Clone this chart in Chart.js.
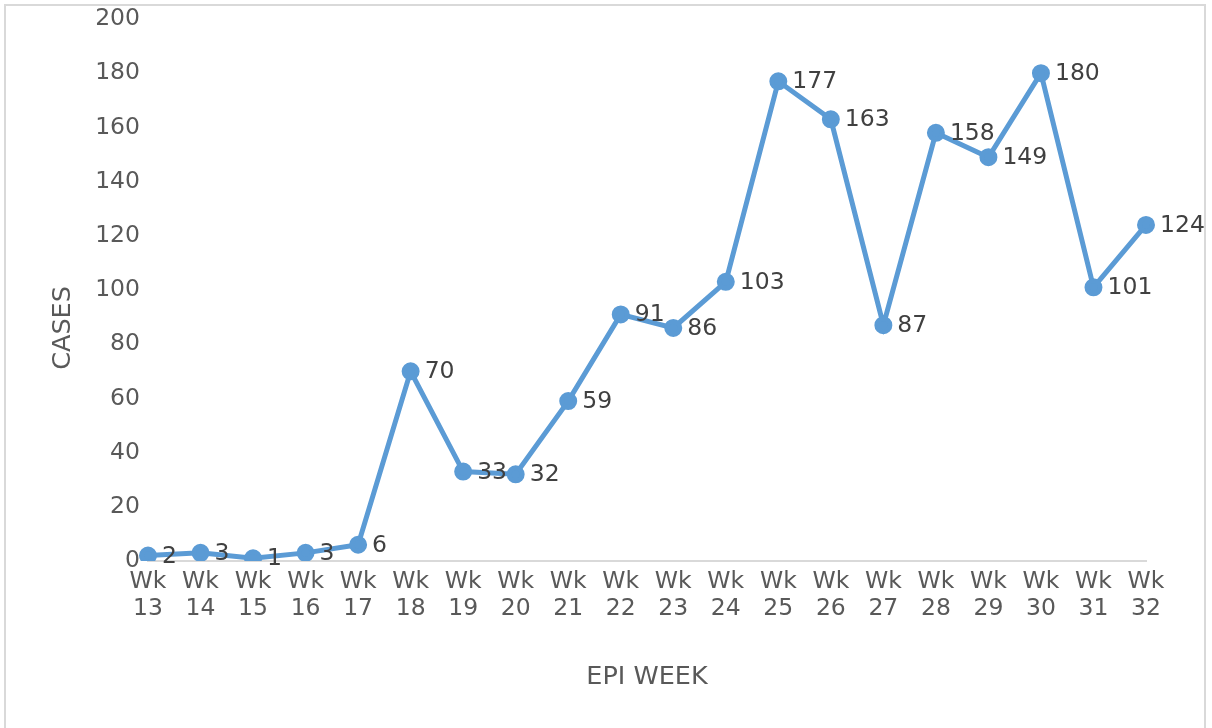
<!DOCTYPE html>
<html lang="en">
<head>
    <meta charset="UTF-8">
    <title>Cases by Epi Week</title>
    <style>
        body { margin: 0; padding: 0; background: #fff; }
        .wrap { position: relative; width: 1212px; height: 728px; }
    </style>
    <script src="https://cdn.jsdelivr.net/npm/chart.js"></script>
</head>
<body>
    <div class="wrap"><canvas id="casesChart"></canvas></div>

    <script>
        const weeks = ['13', '14', '15', '16', '17', '18', '19', '20', '21', '22',
                       '23', '24', '25', '26', '27', '28', '29', '30', '31', '32'];
        const cases = [2, 3, 1, 3, 6, 70, 33, 32, 59, 91, 86, 103, 177, 163, 87, 158, 149, 180, 101, 124];
        const yTicks = [0, 20, 40, 60, 80, 100, 120, 140, 160, 180, 200];

        const FONT = '"DejaVu Sans", sans-serif';

        // frame round the whole chart, plus the y title (sits a bit below centre)
        const frame = {
            id: 'frame',
            beforeDraw(chart) {
                const ctx = chart.ctx;
                ctx.save();
                ctx.strokeStyle = '#d9d9d9';
                ctx.lineWidth = 2;
                ctx.strokeRect(5, 5, 1200, 760);
                ctx.translate(63, 328);
                ctx.rotate(-Math.PI / 2);
                ctx.font = '25.5px ' + FONT;
                ctx.fillStyle = '#595959';
                ctx.textAlign = 'center';
                ctx.textBaseline = 'middle';
                ctx.fillText('CASES', 0, 0);
                ctx.restore();
            }
        };

        // value labels to the right of each point
        const valueLabels = {
            id: 'valueLabels',
            afterDatasetsDraw(chart) {
                const ctx = chart.ctx;
                const meta = chart.getDatasetMeta(0);
                ctx.save();
                ctx.font = '23.5px ' + FONT;
                ctx.fillStyle = '#404040';
                ctx.textAlign = 'left';
                ctx.textBaseline = 'middle';
                meta.data.forEach((pt, i) => {
                    ctx.fillText(String(cases[i]), pt.x + 14, pt.y + 1);
                });
                ctx.restore();
            }
        };

        new Chart(document.getElementById('casesChart'), {
            type: 'line',
            data: {
                labels: weeks.map(w => ['Wk', w]),
                datasets: [{
                    data: cases,
                    borderColor: '#5b9bd5',
                    backgroundColor: '#5b9bd5',
                    borderWidth: 5,
                    pointRadius: 6.5,
                    pointHoverRadius: 6.5,
                    tension: 0
                }]
            },
            options: {
                responsive: true,
                maintainAspectRatio: false,
                animation: false,
                layout: { padding: { left: 43, right: 66, top: 19, bottom: 35 } },
                plugins: {
                    legend: { display: false },
                    tooltip: { enabled: false }
                },
                scales: {
                    x: {
                        offset: false,
                        grid: { display: false, drawTicks: false },
                        border: { display: true, color: '#d9d9d9', width: 2 },
                        ticks: {
                            color: '#595959',
                            font: { family: FONT, size: 23.5, lineHeight: 1.15 },
                            padding: 7,
                            maxRotation: 0,
                            autoSkip: false
                        },
                        title: {
                            display: true,
                            text: 'EPI WEEK',
                            color: '#595959',
                            font: { family: FONT, size: 25.5 },
                            padding: { top: 0, bottom: 0 }
                        },
                        afterFit(scale) { scale.height = 132; }
                    },
                    y: {
                        min: 0,
                        max: 200,
                        afterBuildTicks(scale) { scale.ticks = yTicks.map(v => ({ value: v })); },
                        grid: { display: false, drawTicks: false },
                        border: { display: false },
                        ticks: {
                            color: '#595959',
                            font: { family: FONT, size: 23.5, lineHeight: 1 },
                            padding: 8
                        },
                        afterFit(scale) {
                            scale.width = 105;
                            scale.paddingTop = 0;
                            scale.paddingBottom = 0;
                        }
                    }
                }
            },
            plugins: [frame, valueLabels]
        });
    </script>
</body>
</html>
